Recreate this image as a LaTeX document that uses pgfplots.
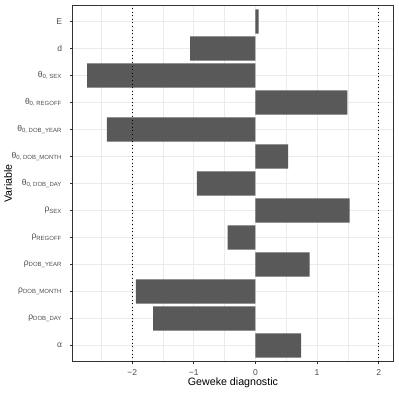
\documentclass[border=0pt]{standalone}
\usepackage{fontspec}
\setmainfont{Liberation Sans}
\usepackage{pgfplots}
\pgfplotsset{compat=1.18}
\definecolor{barfill}{RGB}{89,89,89}
\definecolor{gridc}{RGB}{235,235,235}
\definecolor{frame}{RGB}{51,51,51}
\definecolor{ticklab}{RGB}{77,77,77}
\newcommand{\sub}[1]{\textsubscript{\fontsize{4.5}{5}\selectfont #1}}

\pgfplotstableread{
pos val
1  0.74
2  -1.66
3  -1.94
4  0.88
5  -0.45
6  1.53
7  -0.95
8  0.53
9  -2.41
10 1.49
11 -2.73
12 -1.06
13 0.05
}\geweke

\begin{document}
\begin{tikzpicture}
\begin{axis}[
  name=ax,
  scale only axis, width=240.5pt, height=267.3pt,
  xmin=-2.966, xmax=2.2365, ymin=0.4, ymax=13.6,
  axis line style={frame, line width=0.7pt},
  xtick={-2,-1,0,1,2}, xticklabels={−2,−1,0,1,2},
  minor xtick={-2.5,-1.5,-0.5,0.5,1.5},
  ytick={1,...,13},
  yticklabels={α, ρ\sub{DOB\_DAY}, ρ\sub{DOB\_MONTH}, ρ\sub{DOB\_YEAR}, ρ\sub{REGOFF}, ρ\sub{SEX},
    θ\sub{0, DOB\_DAY}, θ\sub{0, DOB\_MONTH}, θ\sub{0, DOB\_YEAR}, θ\sub{0, REGOFF}, θ\sub{0, SEX}, d, E},
  tick align=outside, tick pos=lower,
  major tick length=2pt,
  tick style={frame, line width=0.7pt},
  minor tick length=0pt,
  xmajorgrids, xminorgrids, ymajorgrids,
  major grid style={gridc, line width=0.7pt},
  minor grid style={gridc, line width=0.35pt},
  tick label style={font=\fontsize{6.4}{7.5}\selectfont, text=ticklab},
  xticklabel style={anchor=center, yshift=-6.2pt},
  yticklabel style={anchor=east, xshift=-2.4pt},
  xlabel={Geweke diagnostic},
  xlabel style={font=\fontsize{8}{9.5}\selectfont, at={(0.5,0)}, anchor=center, yshift=-16pt},
  clip=false,
]
\addplot[xbar, bar width=0.9, fill=barfill, draw=none] table[x=val, y=pos] {\geweke};
\addplot[black, dotted, line width=0.7pt] coordinates {(-2,0.4) (-2,13.6)};
\addplot[black, dotted, line width=0.7pt] coordinates {(2,0.4) (2,13.6)};
\end{axis}
\node[rotate=90, font=\fontsize{8}{9.5}\selectfont] at ([xshift=-48.5pt]ax.west) {Variable};
\pgfresetboundingbox
\path (ax.south west) ++(-54.5pt,-24.2pt) rectangle ([xshift=4.3pt,yshift=4pt]ax.north east);
\end{tikzpicture}
\end{document}
